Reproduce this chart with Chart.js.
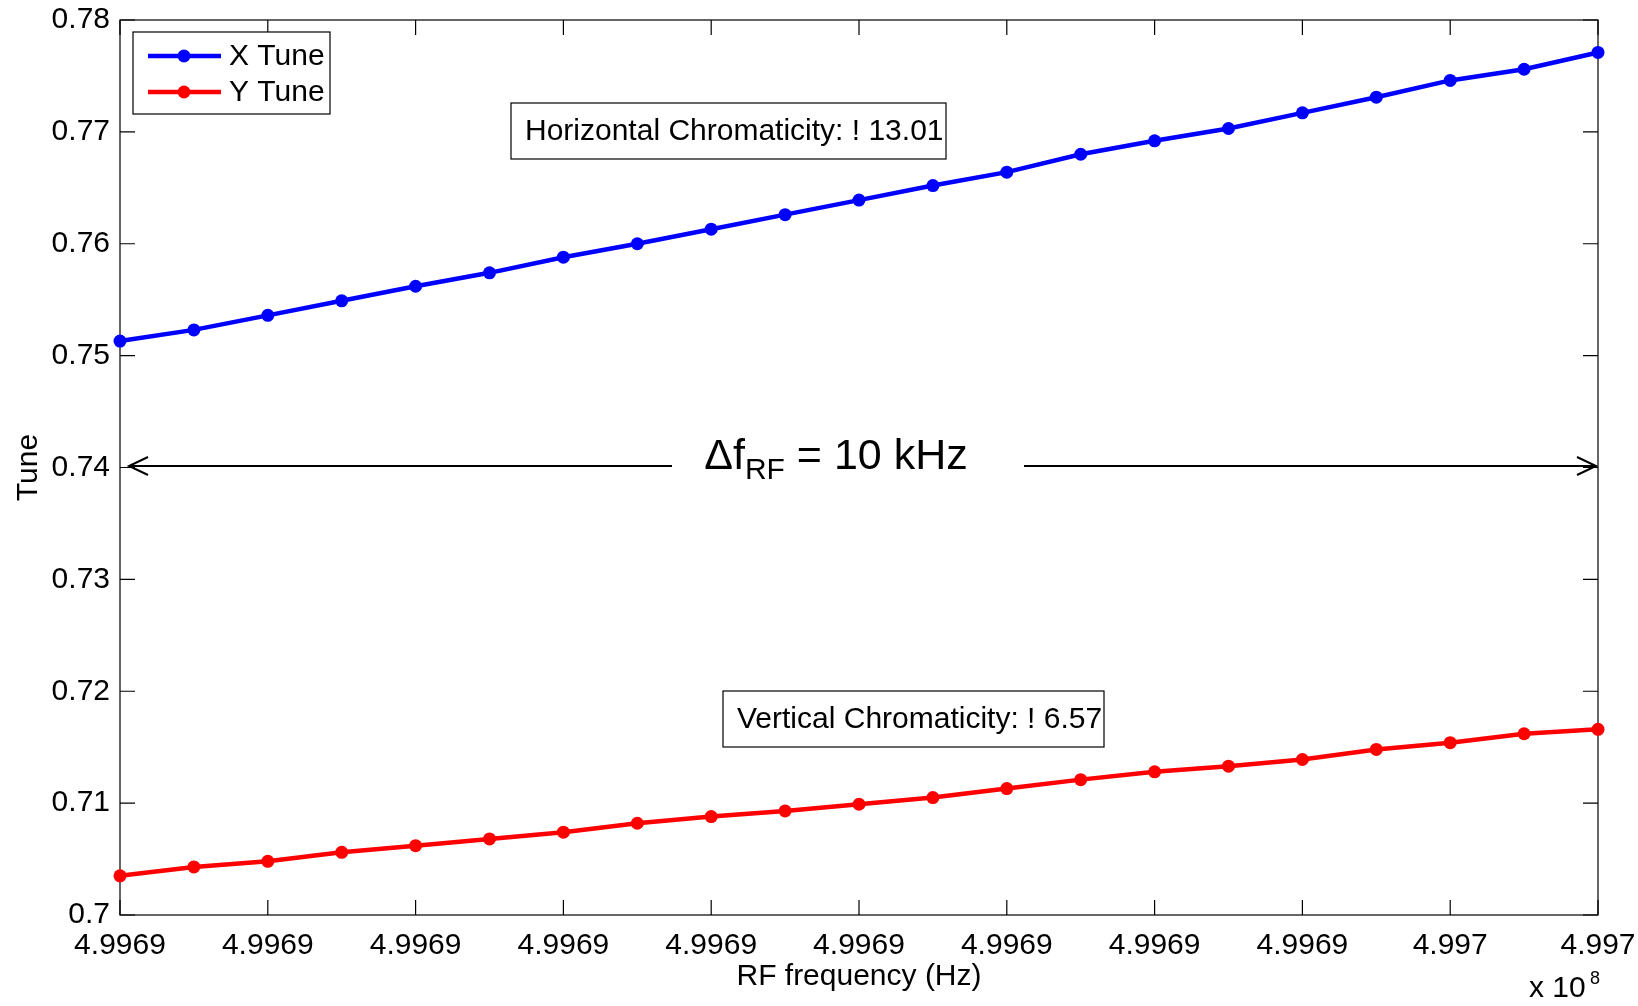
<!DOCTYPE html>
<html>
<head>
<meta charset="utf-8">
<script src="https://cdn.jsdelivr.net/npm/chart.js@4"></script>
<style>
  html, body { margin: 0; padding: 0; background: #fff; }
  #wrap { width: 1638px; height: 1006px; }
</style>
</head>
<body>
<div id="wrap"><canvas id="myChart" width="1638" height="1006"></canvas></div>
<script>
// RF frequency (Hz), one point every 500 Hz
const freqs = [
  499690000, 499690500, 499691000, 499691500, 499692000, 499692500, 499693000,
  499693500, 499694000, 499694500, 499695000, 499695500, 499696000, 499696500,
  499697000, 499697500, 499698000, 499698500, 499699000, 499699500, 499700000,
];
const xTune = [
  0.7513, 0.7523, 0.7536, 0.7549, 0.7562, 0.7574, 0.7588, 0.7600, 0.7613, 0.7626, 0.7639,
  0.7652, 0.7664, 0.7680, 0.7692, 0.7703, 0.7717, 0.7731, 0.7746, 0.7756, 0.7771,
];
const yTune = [
  0.7035, 0.7043, 0.7048, 0.7056, 0.7062, 0.7068, 0.7074, 0.7082, 0.7088, 0.7093, 0.7099,
  0.7105, 0.7113, 0.7121, 0.7128, 0.7133, 0.7139, 0.7148, 0.7154, 0.7162, 0.7166,
];
const xTickLabels = [
  "4.9969", "4.9969", "4.9969", "4.9969", "4.9969", "4.9969",
  "4.9969", "4.9969", "4.9969", "4.997", "4.997",
];
const yTickLabels = ["0.7", "0.71", "0.72", "0.73", "0.74", "0.75", "0.76", "0.77", "0.78"];

const FONT = "'Liberation Sans', Arial, Helvetica, sans-serif";
const FS = 30;

const toPoints = (ys) => ys.map((y, i) => ({ x: freqs[i], y: y }));

// MATLAB-like box, inward ticks, legend and annotations
const matlabDecor = {
  id: "matlabDecor",
  beforeDatasetsDraw(chart) {
    const { ctx, chartArea: a, scales } = chart;
    const tl = 15;
    ctx.save();
    ctx.strokeStyle = "#000";
    ctx.lineWidth = 1.2;
    ctx.strokeRect(a.left, a.top, a.right - a.left, a.bottom - a.top);
    ctx.beginPath();
    scales.x.ticks.forEach((t) => {
      const px = scales.x.getPixelForValue(t.value);
      ctx.moveTo(px, a.bottom); ctx.lineTo(px, a.bottom - tl);
      ctx.moveTo(px, a.top); ctx.lineTo(px, a.top + tl);
    });
    scales.y.ticks.forEach((t) => {
      const py = scales.y.getPixelForValue(t.value);
      ctx.moveTo(a.left, py); ctx.lineTo(a.left + tl, py);
      ctx.moveTo(a.right, py); ctx.lineTo(a.right - tl, py);
    });
    ctx.stroke();
    ctx.restore();
  },
  afterDraw(chart) {
    const { ctx, chartArea: a, scales } = chart;
    ctx.save();
    ctx.strokeStyle = "#000";
    ctx.fillStyle = "#000";
    ctx.lineWidth = 1.2;

    // legend
    ctx.fillStyle = "#fff";
    ctx.fillRect(133, 32, 197, 82);
    ctx.strokeRect(133, 32, 197, 82);
    ctx.font = FS + "px " + FONT;
    ctx.textBaseline = "middle";
    chart.data.datasets.forEach((ds, i) => {
      const y = 56 + i * 36;
      ctx.strokeStyle = ds.borderColor;
      ctx.lineWidth = 4.5;
      ctx.beginPath(); ctx.moveTo(148, y); ctx.lineTo(221, y); ctx.stroke();
      ctx.fillStyle = ds.borderColor;
      ctx.beginPath(); ctx.arc(184, y, 6.5, 0, Math.PI * 2); ctx.fill();
      ctx.fillStyle = "#000";
      ctx.fillText(ds.label, 229, y + 1);
    });

    // chromaticity boxes
    ctx.strokeStyle = "#000";
    ctx.lineWidth = 1.2;
    ctx.textBaseline = "middle";
    ctx.fillStyle = "#fff";
    ctx.fillRect(511, 103, 435, 56);
    ctx.strokeRect(511, 103, 435, 56);
    ctx.fillRect(723, 691, 381, 56);
    ctx.strokeRect(723, 691, 381, 56);
    ctx.fillStyle = "#000";
    ctx.fillText("Horizontal Chromaticity: ! 13.01", 525, 132);
    ctx.fillText("Vertical Chromaticity: ! 6.57", 737, 720);

    // delta f arrow
    const ay = scales.y.getPixelForValue(0.74) - 1.5;
    ctx.lineWidth = 2;
    ctx.beginPath();
    ctx.moveTo(a.left + 9, ay); ctx.lineTo(672, ay);
    ctx.moveTo(1024, ay); ctx.lineTo(a.right - 2, ay);
    ctx.moveTo(a.left + 28, ay - 9); ctx.lineTo(a.left + 9, ay); ctx.lineTo(a.left + 28, ay + 9);
    ctx.moveTo(a.right - 21, ay - 9); ctx.lineTo(a.right - 2, ay); ctx.lineTo(a.right - 21, ay + 9);
    ctx.stroke();

    ctx.textBaseline = "alphabetic";
    const big = "43px " + FONT, small = "30px " + FONT;
    ctx.font = big;
    const w1 = ctx.measureText("\u0394f").width;
    const w3 = ctx.measureText(" = 10 kHz").width;
    ctx.font = small;
    const w2 = ctx.measureText("RF").width;
    let x0 = 836 - (w1 + w2 + w3) / 2;
    ctx.font = big;
    ctx.fillText("\u0394f", x0, 469);
    ctx.font = small;
    ctx.fillText("RF", x0 + w1, 479);
    ctx.font = big;
    ctx.fillText(" = 10 kHz", x0 + w1 + w2, 469);

    // exponent
    ctx.font = FS + "px " + FONT;
    ctx.fillText("x 10", 1529, 997);
    ctx.font = "18px " + FONT;
    ctx.fillText("8", 1590, 984);
    ctx.restore();
  },
};

const ctx = document.getElementById("myChart");

new Chart(ctx, {
  type: "line",
  data: {
    datasets: [
      {
        label: "X Tune",
        data: toPoints(xTune),
        borderColor: "#0000ff",
        backgroundColor: "#0000ff",
        borderWidth: 4.5,
        pointRadius: 6.5,
        pointBorderWidth: 0,
        clip: false,
      },
      {
        label: "Y Tune",
        data: toPoints(yTune),
        borderColor: "#ff0000",
        backgroundColor: "#ff0000",
        borderWidth: 4.5,
        pointRadius: 6.5,
        pointBorderWidth: 0,
        clip: false,
      },
    ],
  },
  options: {
    responsive: false,
    animation: false,
    devicePixelRatio: 1,
    layout: { padding: { top: 20, right: 40, left: 0, bottom: 0 } },
    plugins: {
      legend: { display: false },
      tooltip: { enabled: false },
    },
    scales: {
      x: {
        type: "linear",
        min: freqs[0],
        max: freqs[freqs.length - 1],
        grid: { display: false, drawTicks: false },
        border: { display: false },
        ticks: {
          stepSize: 1000,
          autoSkip: false,
          maxRotation: 0,
          padding: 13,
          color: "#000",
          font: { family: FONT, size: FS },
          callback: (v, i) => xTickLabels[i],
        },
        title: {
          display: true,
          text: "RF frequency (Hz)",
          color: "#000",
          font: { family: FONT, size: FS },
          padding: { top: 0, bottom: 11 },
        },
        afterFit: (s) => {
          s.height = 91;
          s.paddingLeft = 0;
          s.paddingRight = 0;
        },
      },
      y: {
        min: 0.7,
        max: 0.78,
        grid: { display: false, drawTicks: false },
        border: { display: false },
        ticks: {
          stepSize: 0.01,
          padding: 10,
          color: "#000",
          font: { family: FONT, size: FS },
          callback: (v, i) => yTickLabels[i],
        },
        title: {
          display: true,
          text: "Tune",
          color: "#000",
          font: { family: FONT, size: FS },
          padding: { top: 11, bottom: 0 },
        },
        afterFit: (s) => {
          s.width = 120;
          s.paddingTop = 0;
          s.paddingBottom = 0;
        },
      },
    },
  },
  plugins: [matlabDecor],
});
</script>
</body>
</html>
